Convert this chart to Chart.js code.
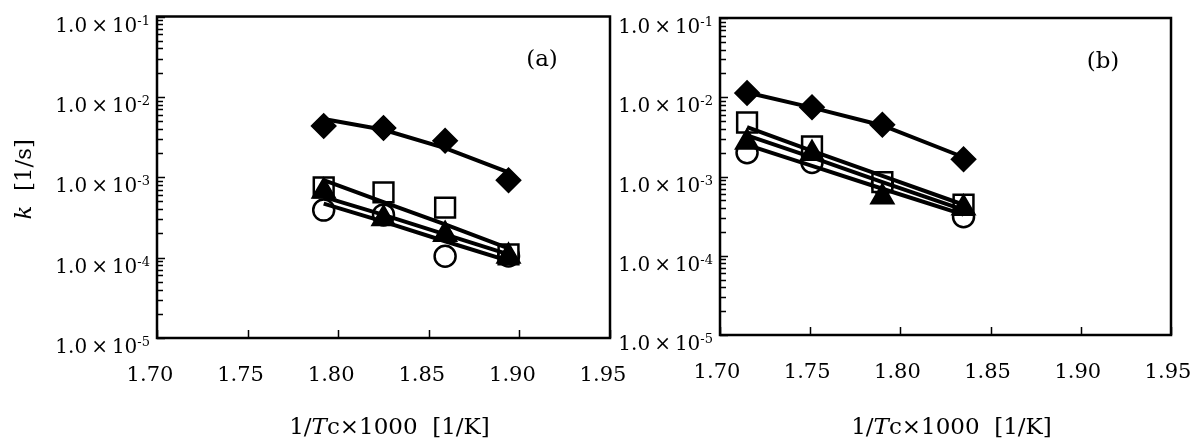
<!DOCTYPE html>
<html lang="en">
<head>
  <meta charset="utf-8" />
  <title>Rate constant k vs 1/Tc</title>
  <script src="https://cdn.jsdelivr.net/npm/chart.js@4/dist/chart.umd.min.js"></script>
  <style>
    body {
      margin: 0;
      background: #fff;
    }
    #wrap {
      position: relative;
      width: 1198px;
      height: 445px;
    }
    #wrap canvas {
      position: absolute;
      top: 0;
    }
  </style>
</head>
<body>
  <div id="wrap">
    <canvas id="chartA" width="640" height="445" style="left:0"></canvas>
    <canvas id="chartB" width="598" height="445" style="left:600px"></canvas>
  </div>

  <script>
    // 1. Data
    const xTickValues = [1.70, 1.75, 1.80, 1.85, 1.90, 1.95];
    const xTickLabels = ["1.70", "1.75", "1.80", "1.85", "1.90", "1.95"];
    const yTickValues = [1e-5, 1e-4, 1e-3, 1e-2, 1e-1];
    const yTickExponents = ["-5", "-4", "-3", "-2", "-1"];
    const yTickMantissa = "1.0\u2009\u00d7\u200910";

    // panel (a)
    const invTempA = [1.792, 1.825, 1.859, 1.894];
    const diamondA = [4.35e-3, 4.1e-3, 2.84e-3, 9.2e-4];
    const squareA = [7.5e-4, 6.5e-4, 4.2e-4, 1.1e-4];
    const triangleA = [6.7e-4, 3.05e-4, 1.94e-4, 1.04e-4];
    const circleA = [3.9e-4, 3.4e-4, 1.04e-4, 1.05e-4];
    const fitDiamondA = [5.3e-3, 3.9e-3, 2.3e-3, 1.15e-3];
    const fitSquareA = [9.2e-4, 4.9e-4, 2.6e-4, 1.3e-4];
    const fitTriangleA = [5.7e-4, 3.4e-4, 1.95e-4, 1.1e-4];
    const fitCircleA = [4.7e-4, 2.8e-4, 1.6e-4, 9.1e-5];

    // panel (b)
    const invTempB = [1.715, 1.751, 1.790, 1.835];
    const diamondB = [1.13e-2, 7.5e-3, 4.5e-3, 1.65e-3];
    const squareB = [4.8e-3, 2.4e-3, 8.5e-4, 4.4e-4];
    const triangleB = [2.7e-3, 1.95e-3, 5.5e-4, 4.0e-4];
    const circleB = [2.0e-3, 1.5e-3, 8.0e-4, 3.1e-4];
    const fitDiamondB = [1.15e-2, 7.4e-3, 4.4e-3, 1.75e-3];
    const fitSquareB = [4.2e-3, 2.1e-3, 1.02e-3, 4.4e-4];
    const fitTriangleB = [3.3e-3, 1.74e-3, 8.5e-4, 3.8e-4];
    const fitCircleB = [2.5e-3, 1.36e-3, 7.0e-4, 3.3e-4];

    const SERIF = '"DejaVu Serif", "Liberation Serif", serif';

    // 2. Helpers
    function pts(xs, ys) {
      return xs.map((x, i) => ({ x: x, y: ys[i] }));
    }

    function richText(ctx, parts, x, y, align) {
      let w = 0;
      for (const p of parts) { ctx.font = p.font; w += ctx.measureText(p.text).width; }
      let cx = align === "center" ? x - w / 2 : align === "right" ? x - w : x;
      for (const p of parts) {
        ctx.font = p.font;
        ctx.fillText(p.text, cx, y - (p.rise || 0));
        cx += ctx.measureText(p.text).width;
      }
    }

    function markers(xs, ys, style, radius, filled, order) {
      return {
        type: "scatter",
        data: pts(xs, ys),
        pointStyle: style,
        pointRadius: radius,
        pointBackgroundColor: filled ? "#000" : "#fff",
        pointBorderColor: "#000",
        pointBorderWidth: 2.5,
        showLine: false,
        order: order
      };
    }

    function fitLine(xs, ys) {
      return {
        type: "line",
        data: pts(xs, ys),
        borderColor: "#000",
        borderWidth: 4,
        pointRadius: 0,
        tension: 0,
        fill: false,
        order: 0
      };
    }

    // 3. Frame plugin: border, inward ticks, y labels, titles
    const framePlugin = {
      id: "frame",
      afterDatasetsDraw(chart, args, opts) {
        const { ctx, chartArea: a, scales: { x, y } } = chart;
        ctx.save();
        ctx.strokeStyle = "#000";
        ctx.fillStyle = "#000";

        ctx.lineWidth = 2.5;
        ctx.strokeRect(a.left, a.top, a.right - a.left, a.bottom - a.top);

        ctx.lineWidth = 1.5;
        ctx.beginPath();
        yTickValues.forEach((v, i) => {
          for (let m = 1; m <= 9; m++) {
            if (i === yTickValues.length - 1 && m > 1) break;
            const py = Math.round(y.getPixelForValue(v * m)) + 0.5;
            ctx.moveTo(a.left, py);
            ctx.lineTo(a.left + (m === 1 ? 8 : 6), py);
          }
        });
        xTickValues.forEach(v => {
          const px = Math.round(x.getPixelForValue(v)) + 0.5;
          ctx.moveTo(px, a.bottom);
          ctx.lineTo(px, a.bottom - 8);
        });
        ctx.stroke();

        // y tick labels with superscript exponent
        ctx.textAlign = "left";
        ctx.textBaseline = "alphabetic";
        yTickValues.forEach((v, i) => {
          const py = y.getPixelForValue(v);
          richText(ctx, [
            { text: yTickMantissa, font: `20px ${SERIF}` },
            { text: yTickExponents[i], font: `13px ${SERIF}`, rise: 7 }
          ], a.left - 7, py + 15, "right");
        });

        // x axis title
        const cxT = (a.left + a.right) / 2;
        richText(ctx, [
          { text: "1/", font: `23px ${SERIF}` },
          { text: "T", font: `italic 23px ${SERIF}` },
          { text: "c\u00d71000  [1/K]", font: `23px ${SERIF}` }
        ], cxT + 6, 434, "center");

        // y axis title
        if (opts.yTitle) {
          ctx.save();
          ctx.translate(31, (a.top + a.bottom) / 2 + 2);
          ctx.rotate(-Math.PI / 2);
          richText(ctx, [
            { text: "k", font: `italic 23px ${SERIF}` },
            { text: "  [1/s]", font: `23px ${SERIF}` }
          ], 0, 0, "center");
          ctx.restore();
        }

        // panel letter
        ctx.font = `23px ${SERIF}`;
        ctx.textAlign = "center";
        ctx.textBaseline = "middle";
        ctx.fillText(opts.letter, a.right - 68, a.top + 44);
        ctx.restore();
      }
    };

    // 4. Chart setup
    function buildChart(id, cfg) {
      return new Chart(document.getElementById(id), {
        type: "scatter",
        data: {
          datasets: [
            fitLine(cfg.xs, cfg.fits[0]),
            fitLine(cfg.xs, cfg.fits[1]),
            fitLine(cfg.xs, cfg.fits[2]),
            fitLine(cfg.xs, cfg.fits[3]),
            markers(cfg.xs, cfg.circle, "circle", 10.5, false, 4),
            markers(cfg.xs, cfg.square, "rect", 14, false, 3),
            markers(cfg.xs, cfg.triangle, "triangle", 12.5, true, 2),
            markers(cfg.xs, cfg.diamond, "rectRot", 11.5, true, 1)
          ]
        },
        options: {
          responsive: false,
          animation: false,
          devicePixelRatio: 1,
          layout: { padding: cfg.padding },
          plugins: {
            legend: { display: false },
            tooltip: { enabled: false },
            frame: { letter: cfg.letter, yTitle: cfg.yTitle }
          },
          scales: {
            x: {
              type: "linear",
              min: 1.70,
              max: 1.95,
              grid: { display: false, drawTicks: false },
              border: { display: false },
              afterBuildTicks: s => { s.ticks = xTickValues.map(v => ({ value: v })); },
              afterFit: s => { s.height = cfg.xHeight; s.paddingLeft = 0; s.paddingRight = 0; },
              ticks: {
                color: "#000",
                font: { family: SERIF, size: 21 },
                padding: 25,
                labelOffset: cfg.labelShift,
                maxRotation: 0,
                callback: (v, i) => xTickLabels[i]
              }
            },
            y: {
              type: "logarithmic",
              min: 1e-5,
              max: 1e-1,
              grid: { display: false, drawTicks: false },
              border: { display: false },
              ticks: { display: false },
              afterFit: s => { s.width = cfg.yWidth; }
            }
          }
        },
        plugins: [framePlugin]
      });
    }

    buildChart("chartA", {
      xs: invTempA,
      diamond: diamondA, square: squareA, triangle: triangleA, circle: circleA,
      fits: [fitDiamondA, fitSquareA, fitTriangleA, fitCircleA],
      padding: { left: 0, right: 30, top: 12, bottom: 0 },
      yWidth: 157, xHeight: 107, labelShift: -7,
      letter: "(a)", yTitle: true
    });

    buildChart("chartB", {
      xs: invTempB,
      diamond: diamondB, square: squareB, triangle: triangleB, circle: circleB,
      fits: [fitDiamondB, fitSquareB, fitTriangleB, fitCircleB],
      padding: { left: 0, right: 27, top: 18, bottom: 0 },
      yWidth: 120, xHeight: 110, labelShift: -3,
      letter: "(b)", yTitle: false
    });
  </script>
</body>
</html>
